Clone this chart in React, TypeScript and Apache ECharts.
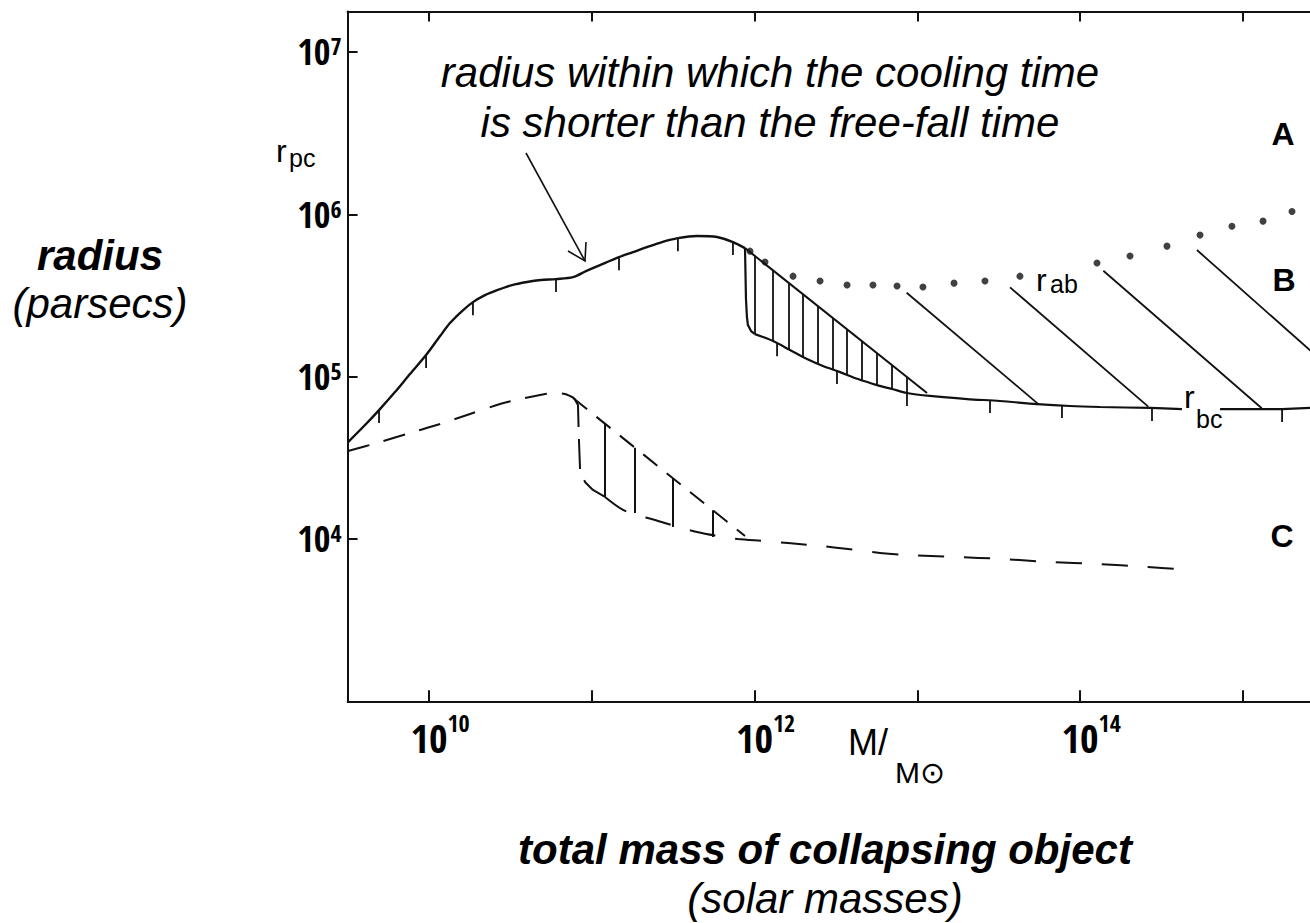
import React, { useEffect, useRef } from "react";
import * as echarts from "echarts";

// ---------- axes (log10 exponents) ----------
const xTickExps = [10, 11, 12, 13, 14, 15];
const xLabelExps = [10, 12, 14];
const yTickExps = [4, 5, 6, 7];
const xMinExp = 9.5;
const xMaxExp = 15.4115;
const yMinExp = 3;
const yMaxExp = 7.25;

// ---------- data (log10 M/Msun, log10 r/pc) ----------
// solid r_pc curve up to its peak
const rpcLogM = [9.503, 9.607, 9.693, 9.791, 9.883, 9.982, 10.068, 10.129, 10.203, 10.27, 10.344, 10.418, 10.51, 10.602, 10.688, 10.78, 10.885, 10.964, 11.05, 11.167, 11.253, 11.339, 11.431, 11.529, 11.646, 11.769, 11.867, 11.941];
const rpcLogR = [4.597, 4.702, 4.794, 4.905, 5.016, 5.133, 5.25, 5.33, 5.404, 5.459, 5.502, 5.533, 5.564, 5.583, 5.595, 5.601, 5.613, 5.65, 5.687, 5.736, 5.767, 5.798, 5.829, 5.853, 5.866, 5.86, 5.829, 5.792];
// sharp drop into r_bc
const dropLogM = [11.941, 11.947, 11.953, 11.959, 11.978, 12.002];
const dropLogR = [5.792, 5.478, 5.367, 5.318, 5.281, 5.262];
// r_bc curve (left and right of its label)
const rbcLeftLogM = [12.002, 12.113, 12.217, 12.322, 12.42, 12.525, 12.635, 12.752, 12.844, 12.936, 13.077, 13.305, 13.507, 13.735, 13.937, 14.122, 14.429, 14.625];
const rbcLeftLogR = [5.262, 5.219, 5.164, 5.108, 5.065, 5.028, 4.985, 4.948, 4.924, 4.899, 4.881, 4.862, 4.85, 4.831, 4.819, 4.813, 4.807, 4.8];
const rbcRightLogM = [14.859, 15.24, 15.412];
const rbcRightLogR = [4.8, 4.8, 4.807];
// r_ab dotted boundary
const rabLogM = [11.972, 12.064, 12.236, 12.402, 12.568, 12.727, 12.875, 13.034, 13.225, 13.415, 13.63, 14.103, 14.306, 14.533, 14.736, 14.932, 15.123, 15.301];
const rabLogR = [5.773, 5.706, 5.619, 5.589, 5.564, 5.564, 5.558, 5.552, 5.576, 5.589, 5.619, 5.7, 5.743, 5.804, 5.872, 5.927, 5.958, 6.017];
// upper edge of the hatched wedge
const hatchEdgeLogM = [11.941, 13.059];
const hatchEdgeLogR = [5.792, 4.899];
// vertical hatching
const hatchLogM = [12.002, 12.113, 12.211, 12.297, 12.389, 12.482, 12.568, 12.66, 12.752, 12.844, 12.936];
const hatchTopLogR = [5.743, 5.656, 5.576, 5.509, 5.435, 5.361, 5.293, 5.219, 5.145, 5.071, 4.998];
const hatchBotLogR = [5.262, 5.219, 5.17, 5.127, 5.084, 5.047, 5.01, 4.979, 4.948, 4.924, 4.899];
// diagonal lines in region B
const diagStartLogM = [12.934, 13.569, 14.142, 14.717];
const diagStartLogR = [5.517, 5.55, 5.652, 5.78];
const diagEndLogM = [13.743, 14.418, 15.115, 15.811];
const diagEndLogR = [4.831, 4.815, 4.805, 4.807];
// dashed curve
const dashLeftLogM = [9.503, 9.699, 9.883, 10.068, 10.252, 10.436, 10.559, 10.682, 10.762, 10.835, 10.891];
const dashLeftLogR = [4.542, 4.597, 4.653, 4.708, 4.77, 4.831, 4.862, 4.887, 4.899, 4.893, 4.868];
const dashDropLogM = [10.891, 10.915, 10.921, 10.928, 10.958, 11.007, 11.081];
const dashDropLogR = [4.868, 4.825, 4.61, 4.425, 4.351, 4.302, 4.259];
const dashLowLogM = [11.081, 11.192, 11.296, 11.388, 11.511, 11.646, 11.775, 11.898, 12.052, 12.205, 12.402, 12.574, 12.77, 12.936, 13.231, 13.52, 13.815, 14.103, 14.398, 14.687];
const dashLowLogR = [4.259, 4.179, 4.142, 4.117, 4.08, 4.043, 4.018, 4.0, 3.988, 3.975, 3.957, 3.938, 3.914, 3.901, 3.889, 3.877, 3.858, 3.846, 3.828, 3.809];
const dashEdgeLogM = [10.885, 11.941];
const dashEdgeLogR = [4.868, 4.018];
const dashHatchLogM = [11.081, 11.265, 11.499, 11.744];
const dashHatchTopLogR = [4.711, 4.562, 4.374, 4.177];
const dashHatchBotLogR = [4.259, 4.16, 4.074, 4.012];
// small tick marks hanging from the solid curves
const curveTickLogM = [9.693, 9.982, 10.27, 10.78, 11.167, 11.529, 11.867, 12.138, 12.506, 12.936, 13.446, 13.888, 14.441, 15.24];
const curveTickLogR = [4.794, 5.133, 5.459, 5.601, 5.736, 5.853, 5.829, 5.205, 5.035, 4.899, 4.856, 4.825, 4.807, 4.8];

// ---------- helpers ----------
const P = (e: number) => Math.pow(10, e);
const pts = (xs: number[], ys: number[]) => xs.map((x, i) => [P(x), P(ys[i])]);
const segs = (x1: number[], y1: number[], x2: number[], y2: number[]) =>
  x1.map((x, i) => ({ coords: [[P(x), P(y1[i])], [P(x2[i]), P(y2[i])]] }));

const INK = "#111";
const F_NUM = "'Open Sans Condensed','Roboto Condensed','Liberation Sans',Arial,sans-serif";
const F_TXT = "'Liberation Sans',Arial,Helvetica,sans-serif";

const shadow = { shadowColor: "rgba(0,0,0,0.35)", shadowBlur: 4, shadowOffsetX: 2, shadowOffsetY: 2 };

function txt(text: string, x: number, y: number, size: number, opts: any = {}) {
  return {
    type: "text",
    x,
    y,
    z: 100,
    style: {
      text,
      fill: opts.fill || "#000",
      fontFamily: opts.family || F_TXT,
      fontSize: size,
      fontStyle: opts.italic ? "italic" : "normal",
      fontWeight: opts.bold ? "bold" : "normal",
      textAlign: opts.align || "center",
      align: opts.align || "center",
      textVerticalAlign: "middle",
      verticalAlign: "middle",
      ...(opts.shadow ? shadow : {}),
    },
  };
}

function buildOption() {
  const xAxisBase = {
    type: "log",
    logBase: 10,
    min: P(xMinExp),
    max: P(xMaxExp),
    gridIndex: 0,
    splitLine: { show: false },
    minorTick: { show: false },
    axisLine: { show: true, lineStyle: { color: INK, width: 2 } },
  };
  const smooth = 0.3;
  return {
    animation: false,
    backgroundColor: "#fff",
    grid: { left: 347.6, top: 11.4, right: 0, bottom: 221.7, containLabel: false, outerBoundsMode: "none" },
    xAxis: [
      {
        ...xAxisBase,
        position: "bottom",
        axisTick: { show: true, inside: true, length: 11, customValues: xTickExps.map(P), lineStyle: { color: INK, width: 2 } },
        axisLabel: {
          show: true,
          margin: 9,
          customValues: xLabelExps.map(P),
          formatter: (v: number) => `{b|10}{s|${Math.round(Math.log10(v))}}`,
          rich: {
            b: { fontFamily: F_NUM, fontWeight: "bold", fontSize: 40, lineHeight: 40, padding: [14, 0, 0, 22], color: "#000" },
            s: { fontFamily: F_NUM, fontWeight: "bold", fontSize: 24, lineHeight: 24, verticalAlign: "top", color: "#000" },
          },
        },
      },
      {
        ...xAxisBase,
        position: "top",
        axisTick: { show: true, inside: true, length: 10, customValues: xTickExps.map(P), lineStyle: { color: INK, width: 2 } },
        axisLabel: { show: false },
      },
    ],
    yAxis: {
      type: "log",
      logBase: 10,
      min: P(yMinExp),
      max: P(yMaxExp),
      splitLine: { show: false },
      minorTick: { show: false },
      axisLine: { show: true, lineStyle: { color: INK, width: 2 } },
      axisTick: { show: true, inside: true, length: 10, customValues: yTickExps.map(P), lineStyle: { color: INK, width: 2 } },
      axisLabel: {
        show: true,
        margin: 6,
        customValues: yTickExps.map(P),
        formatter: (v: number) => `{b|10}{s|${Math.round(Math.log10(v))}}`,
        rich: {
          b: { fontFamily: F_NUM, fontWeight: "bold", fontSize: 36, lineHeight: 36, padding: [8, 0, 8, 0], color: "#000" },
          s: { fontFamily: F_NUM, fontWeight: "bold", fontSize: 24, lineHeight: 24, verticalAlign: "top", color: "#000" },
        },
      },
    },
    series: [
      { name: "r_pc", type: "line", data: pts(rpcLogM, rpcLogR), smooth, symbol: "none", lineStyle: { color: INK, width: 2.4 } },
      { name: "drop", type: "line", data: pts(dropLogM, dropLogR), smooth: false, symbol: "none", lineStyle: { color: INK, width: 2.2 } },
      { name: "r_bc", type: "line", data: pts(rbcLeftLogM, rbcLeftLogR), smooth, symbol: "none", lineStyle: { color: INK, width: 2.2 } },
      { name: "r_bc right", type: "line", data: pts(rbcRightLogM, rbcRightLogR), smooth: false, symbol: "none", lineStyle: { color: INK, width: 2.2 } },
      { name: "r_ab", type: "scatter", data: pts(rabLogM, rabLogR), symbol: "circle", symbolSize: 7, itemStyle: { color: INK } },
      {
        name: "hatch edge",
        type: "lines",
        coordinateSystem: "cartesian2d",
        data: [{ coords: [[P(hatchEdgeLogM[0]), P(hatchEdgeLogR[0])], [P(hatchEdgeLogM[1]), P(hatchEdgeLogR[1])]] }],
        lineStyle: { color: INK, width: 2, opacity: 1 },
      },
      {
        name: "hatching",
        type: "lines",
        coordinateSystem: "cartesian2d",
        data: segs(hatchLogM, hatchTopLogR, hatchLogM, hatchBotLogR),
        lineStyle: { color: INK, width: 1.8, opacity: 1 },
      },
      {
        name: "B diagonals",
        type: "lines",
        coordinateSystem: "cartesian2d",
        clip: true,
        data: segs(diagStartLogM, diagStartLogR, diagEndLogM, diagEndLogR),
        lineStyle: { color: INK, width: 1.8, opacity: 1 },
      },
      { name: "dashed left", type: "line", data: pts(dashLeftLogM, dashLeftLogR), smooth, symbol: "none", lineStyle: { color: INK, width: 2, type: [22, 15] } },
      { name: "dashed drop", type: "line", data: pts(dashDropLogM, dashDropLogR), smooth: false, symbol: "none", lineStyle: { color: INK, width: 2, type: [30, 12] } },
      { name: "dashed lower", type: "line", data: pts(dashLowLogM, dashLowLogR), smooth, symbol: "none", lineStyle: { color: INK, width: 2, type: [26, 20] } },
      {
        name: "dashed edge",
        type: "lines",
        coordinateSystem: "cartesian2d",
        data: [{ coords: [[P(dashEdgeLogM[0]), P(dashEdgeLogR[0])], [P(dashEdgeLogM[1]), P(dashEdgeLogR[1])]] }],
        lineStyle: { color: INK, width: 2, type: [18, 12], opacity: 1 },
      },
      {
        name: "dashed hatching",
        type: "lines",
        coordinateSystem: "cartesian2d",
        data: segs(dashHatchLogM, dashHatchTopLogR, dashHatchLogM, dashHatchBotLogR),
        lineStyle: { color: INK, width: 2, opacity: 1 },
      },
      {
        name: "curve ticks",
        type: "custom",
        coordinateSystem: "cartesian2d",
        data: pts(curveTickLogM, curveTickLogR),
        renderItem: (_p: any, api: any) => {
          const c = api.coord([api.value(0), api.value(1)]);
          return {
            type: "line",
            shape: { x1: c[0], y1: c[1], x2: c[0], y2: c[1] + 13 },
            style: { stroke: INK, lineWidth: 1.8 },
          };
        },
      },
    ],
    graphic: [
      txt("radius within which the cooling time", 770, 72, 42, { italic: true, shadow: true }),
      txt("is shorter than the free-fall time", 770, 122, 42, { italic: true, shadow: true }),
      txt("radius", 100, 255, 42, { italic: true, bold: true, shadow: true }),
      txt("(parsecs)", 100, 303, 42, { italic: true, shadow: true }),
      txt("total mass of collapsing object", 825, 849, 42, { italic: true, bold: true, shadow: true }),
      txt("(solar masses)", 825, 898, 42, { italic: true, shadow: true }),
      txt("A", 1283, 134, 32, { bold: true }),
      txt("B", 1284, 280, 32, { bold: true }),
      txt("C", 1282, 536, 32, { bold: true }),
      txt("r", 276, 151, 32, { align: "left" }),
      txt("pc", 289, 158, 25, { align: "left" }),
      txt("r", 1036, 280, 32, { align: "left" }),
      txt("ab", 1050, 284, 25, { align: "left" }),
      txt("r", 1184, 397, 32, { align: "left" }),
      txt("bc", 1196, 419, 25, { align: "left" }),
      txt("M/", 848, 742, 36, { align: "left" }),
      txt("M\u2299", 895, 772, 30, { align: "left" }),
      { type: "line", z: 100, shape: { x1: 526, y1: 153, x2: 585, y2: 261 }, style: { stroke: INK, lineWidth: 1.6 } },
      { type: "polyline", z: 100, shape: { points: [[568, 251], [585, 261], [586, 242]] }, style: { stroke: INK, fill: "none", lineWidth: 1.6 } },
    ],
  };
}

export default function App() {
  const ref = useRef<HTMLDivElement>(null);
  useEffect(() => {
    if (!ref.current) return;
    const chart = echarts.init(ref.current, undefined, { renderer: "svg" });
    chart.setOption(buildOption() as any);
    return () => chart.dispose();
  }, []);
  return (
    <div
      ref={ref}
      style={{ position: "fixed", left: 0, top: 0, width: 1310, height: 923, background: "#fff" }}
    />
  );
}
